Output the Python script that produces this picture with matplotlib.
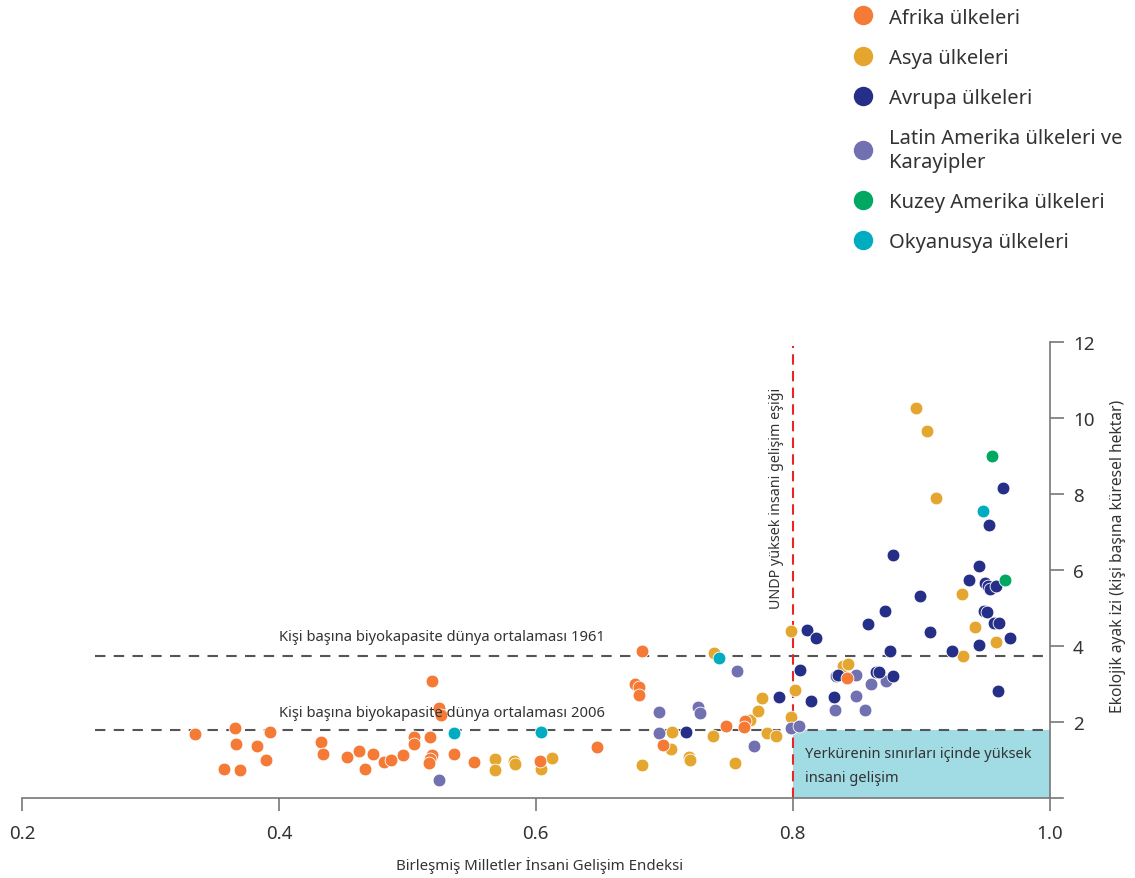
import matplotlib
matplotlib.use("Agg")
import matplotlib.pyplot as plt
from matplotlib.lines import Line2D
from matplotlib.patches import Rectangle

plt.rcParams['font.family'] = ['Noto Sans', 'DejaVu Sans']

# ---------------- data (HDI, ecological footprint) ----------------
africa_x = [0.335, 0.366, 0.367, 0.383, 0.393, 0.390, 0.357, 0.370, 0.433, 0.434,
            0.453, 0.462, 0.467, 0.473, 0.482, 0.487, 0.497, 0.505, 0.505, 0.518,
            0.519, 0.518, 0.517, 0.519, 0.525, 0.526, 0.536, 0.552, 0.603, 0.648,
            0.683, 0.677, 0.680, 0.680, 0.699, 0.748, 0.763, 0.762, 0.842]
africa_y = [1.68, 1.84, 1.43, 1.36, 1.75, 1.00, 0.77, 0.74, 1.47, 1.15,
            1.09, 1.25, 0.76, 1.17, 0.95, 1.01, 1.12, 1.60, 1.43, 1.61,
            1.12, 1.03, 0.93, 3.09, 2.37, 2.18, 1.17, 0.95, 0.97, 1.33,
            3.87, 3.01, 2.91, 2.72, 1.40, 1.90, 2.02, 1.86, 3.16]

asia_x = [0.568, 0.568, 0.583, 0.584, 0.604, 0.613, 0.683, 0.706, 0.705, 0.719,
          0.720, 0.738, 0.739, 0.755, 0.767, 0.773, 0.776, 0.780, 0.787, 0.799,
          0.802, 0.799, 0.839, 0.843, 0.896, 0.905, 0.912, 0.932, 0.942, 0.958,
          0.933]
asia_y = [1.03, 0.75, 0.98, 0.90, 0.76, 1.05, 0.87, 1.73, 1.28, 1.09,
          1.00, 1.62, 3.82, 0.92, 2.05, 2.28, 2.64, 1.72, 1.64, 2.12,
          2.83, 4.40, 3.47, 3.53, 10.26, 9.65, 7.89, 5.37, 4.49, 4.11,
          3.73]

europe_x = [0.717, 0.789, 0.806, 0.811, 0.818, 0.814, 0.832, 0.835, 0.859, 0.872,
            0.878, 0.876, 0.865, 0.867, 0.878, 0.899, 0.907, 0.924, 0.937, 0.945,
            0.945, 0.950, 0.952, 0.954, 0.958, 0.949, 0.951, 0.957, 0.961, 0.969,
            0.960, 0.953, 0.964]
europe_y = [1.75, 2.65, 3.38, 4.43, 4.20, 2.56, 2.67, 3.24, 4.59, 4.93,
            6.40, 3.88, 3.32, 3.32, 3.22, 5.31, 4.36, 3.88, 5.74, 6.11,
            4.03, 5.66, 5.59, 5.50, 5.57, 4.93, 4.89, 4.60, 4.60, 4.20,
            2.82, 7.18, 8.17]

latin_x = [0.525, 0.696, 0.696, 0.726, 0.728, 0.757, 0.770, 0.799, 0.805, 0.834,
           0.849, 0.861, 0.873, 0.849, 0.833, 0.856]
latin_y = [0.48, 2.27, 1.71, 2.40, 2.24, 3.35, 1.36, 1.83, 1.90, 3.22,
           3.24, 3.00, 3.09, 2.69, 2.32, 2.32]

namerica_x = [0.955, 0.965]
namerica_y = [8.99, 5.74]

oceania_x = [0.536, 0.604, 0.743, 0.948]
oceania_y = [1.71, 1.73, 3.68, 7.56]

biocap_1961 = 3.74
biocap_2006 = 1.80
hdi_threshold = 0.80

labels = ["Afrika ülkeleri", "Asya ülkeleri", "Avrupa ülkeleri",
          "Latin Amerika ülkeleri ve\nKarayipler", "Kuzey Amerika ülkeleri",
          "Okyanusya ülkeleri"]
colors = ["#f47a36", "#e5a630", "#262f88", "#7170b1", "#00a862", "#00adc0"]
xticks = [0.2, 0.4, 0.6, 0.8, 1.0]
xtick_labels = ["0.2", "0.4", "0.6", "0.8", "1.0"]
yticks = [2, 4, 6, 8, 10, 12]

# ---------------- figure ----------------
W, H = 1135, 879
fig = plt.figure(figsize=(W / 100, H / 100), dpi=100)
ax = fig.add_axes([22 / W, 80 / H, 1041 / W, 456 / H])
ax.set_xlim(0.2, 1.0105)
ax.set_ylim(0, 12)

txt = "#333333"
gray = "#777777"

# shaded region
ax.add_patch(Rectangle((hdi_threshold, 0), 1.0 - hdi_threshold, biocap_2006,
                       facecolor="#a1dce5", edgecolor="none", zorder=1))

# reference lines
ax.plot([0.257, 1.0], [biocap_1961, biocap_1961], color="#555555", lw=1.5,
        dashes=(5, 4), zorder=2)
ax.plot([0.257, 1.0], [biocap_2006, biocap_2006], color="#555555", lw=1.5,
        dashes=(5, 4), zorder=2)
ax.plot([hdi_threshold, hdi_threshold], [0, 11.9], color="#e8262a", lw=1.5,
        dashes=(5, 3), zorder=2)

# scatter series (drawing order matches overlap in reference)
series = [
    (asia_x, asia_y, 1),
    (latin_x, latin_y, 3),
    (europe_x, europe_y, 2),
    (africa_x, africa_y, 0),
    (oceania_x, oceania_y, 5),
    (namerica_x, namerica_y, 4),
]
for i, (xs, ys, ci) in enumerate(series):
    ax.scatter(xs, ys, s=85, color=colors[ci], edgecolors="white",
               linewidths=0.6, zorder=3 + i)

# annotations
ax.text(0.4, 4.24, "Kişi başına biyokapasite dünya ortalaması 1961",
        fontsize=10.6, color=txt, ha="left", va="center", zorder=10)
ax.text(0.4, 2.24, "Kişi başına biyokapasite dünya ortalaması 2006",
        fontsize=10.6, color=txt, ha="left", va="center", zorder=10)
ax.text(0.7875, 7.92, "UNDP yüksek insani gelişim eşiği", rotation=90,
        fontsize=10.3, color=txt, ha="center", va="center", zorder=10)
ax.text(0.810, 1.16, "Yerkürenin sınırları içinde yüksek",
        fontsize=10.5, color=txt, ha="left", va="center", zorder=10)
ax.text(0.810, 0.55, "insani gelişim",
        fontsize=10.5, color=txt, ha="left", va="center", zorder=10)

# axes styling
for s in ["top", "left"]:
    ax.spines[s].set_visible(False)
ax.spines["bottom"].set_color(gray)
ax.spines["bottom"].set_linewidth(1.2)
ax.spines["right"].set_position(("data", 1.0))
ax.spines["right"].set_color(gray)
ax.spines["right"].set_linewidth(1.2)
ax.spines["right"].set_bounds(0, 12)

ax.set_xticks(xticks)
ax.set_xticklabels(xtick_labels)
ax.yaxis.tick_right()
ax.set_yticks(yticks)
ax.set_yticklabels([str(t) for t in yticks])
ax.tick_params(axis="x", direction="out", length=9, width=1.2, color=gray,
               labelsize=13.5, labelcolor=txt, pad=10)
ax.tick_params(axis="y", direction="out", length=10, width=1.2, color=gray,
               labelsize=13.5, labelcolor=txt, pad=7)

fig.text(540 / W, 1 - 866 / H, "Birleşmiş Milletler İnsani Gelişim Endeksi",
         fontsize=10.8, color=txt, ha="center", va="center")
fig.text(1118 / W, 1 - 556 / H, "Ekolojik ayak izi (kişi başına küresel hektar)",
         fontsize=11.2, color=txt, ha="center", va="center", rotation=90)

# legend
handles = [Line2D([], [], linestyle="none", marker="o", markersize=14,
                  markerfacecolor=c, markeredgecolor="none") for c in colors]
leg = fig.legend(handles, labels, loc="upper left",
                 bbox_to_anchor=(853 / W, 1 - 8.5 / H), frameon=False,
                 fontsize=14.5, labelcolor=txt, handlelength=1.0,
                 handletextpad=0.8, labelspacing=1.0, borderaxespad=0,
                 borderpad=0)
for t in leg.get_texts():
    t.set_linespacing(1.25)

fig.savefig("out.png", dpi=100)
